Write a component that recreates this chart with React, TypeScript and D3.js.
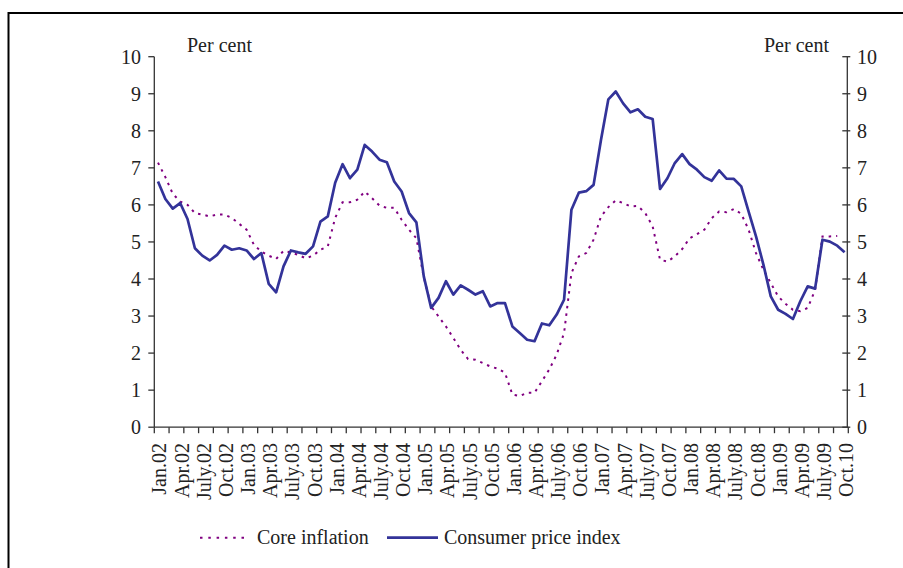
import React from "react";
import * as d3 from "d3";

const years = ["02", "03", "04", "05", "06", "07", "08", "09"];
const monthNames = ["Jan", "Feb", "Mar", "Apr", "May", "June", "July", "Aug", "Sep", "Oct", "Nov", "Dec"];

const cpi = [
  6.63, 6.16, 5.9, 6.05, 5.62, 4.83, 4.63, 4.5, 4.65, 4.9, 4.79, 4.83,
  4.77, 4.54, 4.7, 3.87, 3.64, 4.34, 4.77, 4.72, 4.68, 4.88, 5.55, 5.69,
  6.6, 7.1, 6.72, 6.95, 7.62, 7.44, 7.22, 7.15, 6.63, 6.36, 5.78, 5.53,
  4.07, 3.22, 3.49, 3.94, 3.58, 3.83, 3.71, 3.58, 3.67, 3.26, 3.35, 3.35,
  2.72, 2.54, 2.36, 2.32, 2.8, 2.75, 3.04, 3.44, 5.87, 6.33, 6.37, 6.54,
  7.75, 8.85, 9.06, 8.74, 8.5, 8.58, 8.38, 8.32, 6.43, 6.72, 7.13, 7.37,
  7.1, 6.95, 6.75, 6.65, 6.93, 6.71, 6.7, 6.5, 5.82, 5.15, 4.39, 3.53,
  3.17, 3.06, 2.92, 3.4, 3.8, 3.74, 5.06, 5.01, 4.9, 4.72,
];

const core = [
  7.14, 6.75, 6.3, 6.09, 6.0, 5.78, 5.74, 5.69, 5.74, 5.74, 5.65, 5.49,
  5.33, 4.92, 4.74, 4.63, 4.54, 4.76, 4.72, 4.65, 4.56, 4.63, 4.79, 4.88,
  5.65, 6.07, 6.07, 6.14, 6.36, 6.18, 5.98, 5.92, 5.92, 5.6, 5.33, 5.1,
  4.05, 3.26, 2.99, 2.72, 2.41, 2.09, 1.84, 1.82, 1.73, 1.64, 1.58, 1.47,
  0.88, 0.84, 0.93, 0.93, 1.24, 1.56, 1.96, 2.54, 4.16, 4.61, 4.7, 5.06,
  5.69, 5.94, 6.12, 6.05, 5.96, 5.97, 5.78, 5.42, 4.52, 4.47, 4.61, 4.81,
  5.1, 5.21, 5.33, 5.64, 5.82, 5.8, 5.89, 5.76, 5.33, 4.7, 4.25, 3.89,
  3.53, 3.33, 3.17, 3.13, 3.22, 3.7, 5.15, 5.15, 5.16,
];

const tickLabels = [
  "Jan.02", "Apr.02", "July.02", "Oct.02",
  "Jan.03", "Apr.03", "July.03", "Oct.03",
  "Jan.04", "Apr.04", "July.04", "Oct.04",
  "Jan.05", "Apr.05", "July.05", "Oct.05",
  "Jan.06", "Apr.06", "July.06", "Oct.06",
  "Jan.07", "Apr.07", "July.07", "Oct.07",
  "Jan.08", "Apr.08", "July.08", "Oct.08",
  "Jan.09", "Apr.09", "July.09", "Oct.10",
];

const yTicks = [0, 1, 2, 3, 4, 5, 6, 7, 8, 9, 10];

const seriesNames = ["Core inflation", "Consumer price index"];

const categories: string[] = [];
years.forEach((y) => monthNames.forEach((m) => categories.push(`${m}.${y}`)));
const months = categories.slice(0, cpi.length);

const FONT = "'Liberation Serif', 'Times New Roman', serif";
const CPI_COLOR = "#333399";
const CORE_COLOR = "#800080";
const AXIS = "#333";

export default function App() {
  const left = 154.3;
  const right = 848.3;
  const top = 56.7;
  const bottom = 427.2;

  const x = d3.scaleBand<string>().domain(months).range([left, right]).paddingInner(0).paddingOuter(0);
  const bw = x.bandwidth();
  const cx = (i: number) => (x(months[i]) as number) + bw / 2;
  const y = d3.scaleLinear().domain([0, 10]).range([bottom, top]);

  const line = d3
    .line<number>()
    .x((_, i) => cx(i))
    .y((d) => y(d));

  const xTicks: number[] = [];
  for (let i = 0; i < months.length; i += 2) xTicks.push(x(months[i]) as number);
  xTicks.push(right);

  return (
    <svg
      width={903}
      height={568}
      style={{ position: "absolute", left: 0, top: 0, background: "#fff" }}
      fontFamily={FONT}
    >
      <rect x={8.5} y={13} width={920} height={600} fill="none" stroke="#000" strokeWidth={2} />

      {/* Left axis */}
      <line x1={left} x2={left} y1={top} y2={bottom} stroke={AXIS} strokeWidth={1.3} />
      {yTicks.map((t) => (
        <g key={"l" + t}>
          <line x1={left - 6} x2={left} y1={y(t)} y2={y(t)} stroke={AXIS} strokeWidth={1.3} />
          <text x={141} y={y(t)} dy="0.35em" textAnchor="end" fontSize={20} fill="#222">
            {t}
          </text>
        </g>
      ))}

      {/* Right axis */}
      <line x1={right - 1} x2={right - 1} y1={top} y2={bottom} stroke={AXIS} strokeWidth={1.3} />
      {yTicks.map((t) => (
        <g key={"r" + t}>
          <line x1={right - 6} x2={right + 2} y1={y(t)} y2={y(t)} stroke={AXIS} strokeWidth={1.3} />
          <text x={857} y={y(t)} dy="0.35em" textAnchor="start" fontSize={20} fill="#222">
            {t}
          </text>
        </g>
      ))}

      {/* X axis */}
      <line x1={left} x2={right} y1={bottom} y2={bottom} stroke={AXIS} strokeWidth={1.3} />
      {xTicks.map((tx, k) => (
        <line key={"xt" + k} x1={tx} x2={tx} y1={bottom} y2={bottom + 6} stroke={AXIS} strokeWidth={1.3} />
      ))}
      {tickLabels.map((lab, k) => {
        const px = cx(k * 3);
        return (
          <text
            key={"xl" + k}
            transform={`translate(${px + 1.5},443) rotate(-90)`}
            dy="0.35em"
            textAnchor="end"
            fontSize={20}
            fill="#222"
          >
            {lab}
          </text>
        );
      })}

      <text x={187} y={51.5} fontSize={20} fill="#222">Per cent</text>
      <text x={764} y={51.5} fontSize={20} fill="#222">Per cent</text>

      {/* Series */}
      <path
        d={line(core) || ""}
        fill="none"
        stroke={CORE_COLOR}
        strokeWidth={2}
        strokeDasharray="2.5,5"
      />
      <path d={line(cpi) || ""} fill="none" stroke={CPI_COLOR} strokeWidth={2.7} strokeLinejoin="round" />

      {/* Legend */}
      <line x1={200} x2={249} y1={537.7} y2={537.7} stroke={CORE_COLOR} strokeWidth={2} strokeDasharray="2.5,5.8" />
      <text x={257} y={543.5} fontSize={20} fill="#222">{seriesNames[0]}</text>
      <line x1={387} x2={438} y1={537.7} y2={537.7} stroke={CPI_COLOR} strokeWidth={2.7} />
      <text x={444} y={543.5} fontSize={20} fill="#222">{seriesNames[1]}</text>
    </svg>
  );
}
